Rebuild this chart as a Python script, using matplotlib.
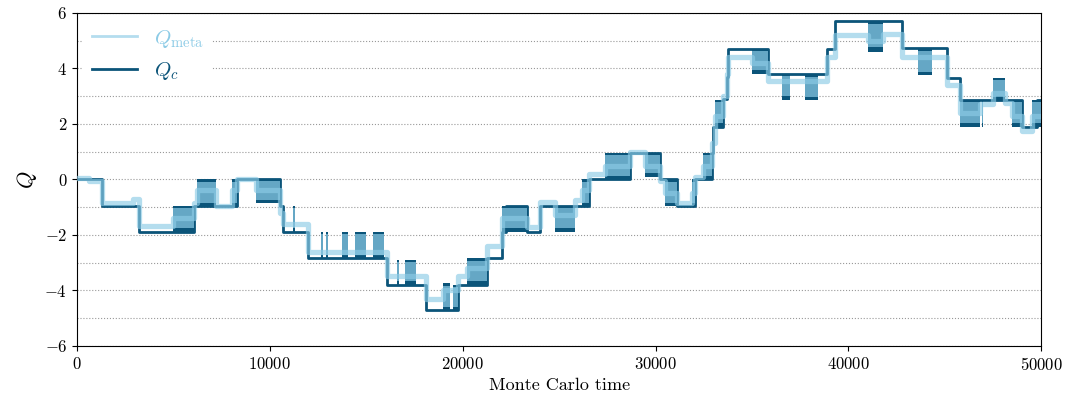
import matplotlib
matplotlib.use("Agg")
import matplotlib.pyplot as plt
from matplotlib.ticker import MultipleLocator

plt.rcParams['font.family'] = 'serif'
plt.rcParams['font.serif'] = ['cmr10']
plt.rcParams['mathtext.fontset'] = 'cm'
plt.rcParams['axes.formatter.use_mathtext'] = True

# Q_c: level changes (time, level after change)
qc_t = [0, 1300, 3200, 6050, 8300, 10530, 10700, 12000, 16080, 18100, 19780,
        21270, 22050, 22250, 23340, 24000, 25850, 26550, 28700, 30240, 31100,
        32050, 32940, 33000, 33500, 33700, 33770, 35840, 38900, 39300, 42800,
        45130, 45800, 49000, 49800, 50000]
qc_v = [0.0, -0.97, -1.9, -0.97, 0.0, -0.97, -1.9, -2.85, -3.8, -4.72, -3.8,
        -2.85, -1.88, -0.95, -1.88, -0.97, -0.97, 0.0, 0.95, 0.0, -0.97,
        0.0, 0.95, 1.9, 2.9, 3.7, 4.7, 3.8, 4.7, 5.7, 4.75,
        3.65, 2.86, 1.9, 2.85, 2.85]

# Q_c fast flicker between two levels: start, end, low, high
fl_start = [5000, 6250, 8050, 9300, 11200, 12650, 12900, 13750, 14400, 15350,
            16600, 17000, 19000, 19500, 20200, 22050, 22250, 24800, 26200,
            27400, 29460, 30500, 31900, 32470, 33100, 35000, 36570, 37760,
            41000, 43600, 45800, 46920, 47500, 48500, 49540]
fl_end = [6050, 7200, 8300, 10530, 11300, 12750, 13000, 14050, 15000, 15930,
          16700, 17600, 19350, 19780, 21270, 22250, 23340, 25850, 26550,
          28700, 30240, 31100, 32050, 32940, 33500, 35840, 36980, 38440,
          41800, 44350, 46840, 46980, 48130, 49000, 50000]
fl_low = [-1.9, -0.97, -0.97, -0.85, -1.9, -2.85, -2.85, -2.85, -2.85, -2.85,
          -3.8, -3.8, -4.72, -4.72, -3.8, -1.88, -1.88, -1.9, -0.97,
          0.0, 0.1, -0.97, -0.97, 0.0, 1.9, 3.8, 2.86, 2.85,
          4.6, 3.75, 1.9, 1.9, 2.85, 1.9, 1.9]
fl_high = [-0.97, 0.0, 0.0, 0.0, -0.97, -1.9, -1.9, -1.9, -1.9, -1.9,
           -2.9, -2.9, -3.75, -3.8, -2.85, -0.95, -0.95, -0.97, 0.0,
           0.95, 0.95, 0.0, 0.0, 0.95, 2.85, 4.7, 3.8, 3.75,
           5.7, 4.7, 2.86, 2.86, 3.65, 2.85, 2.85]

# Q_meta: level changes (time, level after change)
qm_t = [0, 600, 1300, 2900, 3200, 5000, 6050, 6250, 7200, 8050, 8300, 9300,
        10530, 10700, 12000, 16080, 18100, 19000, 19780, 20200, 21270, 22050,
        23340, 24000, 24800, 25850, 26200, 26550, 27400, 28700, 29460, 30240,
        30500, 31100, 31900, 32050, 32470, 32940, 33100, 33500, 33700, 33770,
        35000, 35840, 38900, 39300, 41000, 41800, 42800, 45130, 45800, 46840,
        47500, 48130, 48500, 49000, 49540, 50000]
qm_v = [0.05, -0.05, -0.85, -0.7, -1.68, -1.4, -0.85, -0.4, -0.97, -0.4, 0.02, -0.4,
        -1.2, -1.62, -2.6, -3.5, -4.3, -4.0, -3.5, -3.2, -2.4, -1.4,
        -1.7, -0.8, -1.3, -0.75, -0.4, 0.2, 0.5, 1.0, 0.5, -0.05,
        -0.5, -0.85, -0.5, 0.1, 0.5, 1.3, 2.3, 3.0, 3.8, 4.4,
        4.2, 3.55, 4.4, 5.2, 5.0, 5.25, 4.4, 3.4, 2.4, 2.7,
        3.1, 2.75, 2.3, 1.75, 2.3, 2.3]

yticks = [-6, -4, -2, 0, 2, 4, 6]
xticks = [0, 10000, 20000, 30000, 40000, 50000]

dark = '#0b5479'
light = '#8ccbe6'

fig = plt.figure(figsize=(10.69, 4.04), dpi=100)
ax = fig.add_axes([0.072, 0.144, 0.902, 0.824])

lc, = ax.step(qc_t, qc_v, where='post', color=dark, lw=2.0, zorder=2, label=r'$Q_c$')
for s, e, lo, hi in zip(fl_start, fl_end, fl_low, fl_high):
    ax.fill_between([s, e], [lo, lo], [hi, hi], color=dark, lw=0, zorder=2)
    h = hi - lo
    ax.fill_between([s, e], [lo + 0.14 * h] * 2, [hi - 0.08 * h] * 2,
                    color=light, alpha=0.7, lw=0, zorder=3)
lm, = ax.step(qm_t, qm_v, where='post', color=light, lw=3.8, alpha=0.65, zorder=4,
              label=r'$Q_\mathrm{meta}$')

ax.set_xlim(0, 50000)
ax.set_ylim(-6, 6)
ax.set_xticks(xticks)
ax.set_yticks(yticks)
ax.yaxis.set_minor_locator(MultipleLocator(1))
ax.tick_params(axis='y', which='minor', length=0)
ax.grid(axis='y', which='both', color='#999999', ls=':', lw=0.8)
ax.set_axisbelow(True)
ax.tick_params(labelsize=12)
ax.set_xlabel('Monte Carlo time', fontsize=13)
ax.set_ylabel(r'$Q$', fontsize=16)

leg = ax.legend(handles=[lm, lc], loc='upper left', fontsize=15, frameon=True,
                edgecolor='none', framealpha=1, labelcolor='linecolor',
                handlelength=2.2, borderaxespad=0.3)
for h in leg.legend_handles:
    h.set_linewidth(2)
leg.legend_handles[0].set_alpha(0.65)

fig.savefig('out.png', dpi=100)
